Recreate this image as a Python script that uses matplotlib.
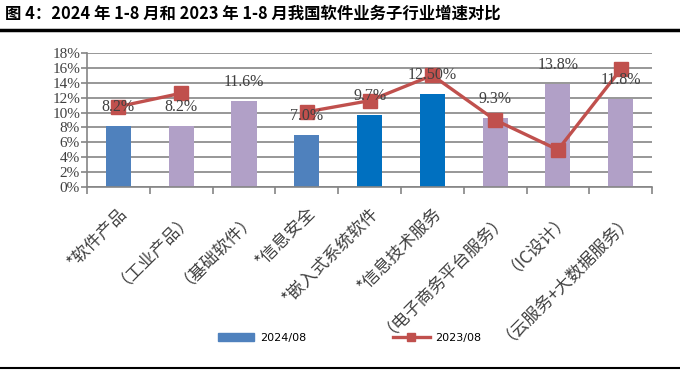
import numpy as np
import matplotlib
matplotlib.use("Agg")
import matplotlib.pyplot as plt
from matplotlib.lines import Line2D
from matplotlib.patches import Patch

plt.rcParams['font.family'] = ['Noto Sans CJK SC', 'DejaVu Sans']

categories = ["*软件产品", "（工业产品）", "（基础软件）", "*信息安全", "*嵌入式系统软件",
              "*信息技术服务", "（电子商务平台服务）", "（IC设计）", "（云服务+大数据服务）"]
values_2024 = [8.2, 8.2, 11.6, 7.0, 9.7, 12.5, 9.3, 13.8, 11.8]
labels_2024 = ["8.2%", "8.2%", "11.6%", "7.0%", "9.7%", "12.50%", "9.3%", "13.8%", "11.8%"]
values_2023 = [10.8, 12.6, np.nan, 10.1, 11.6, 15.0, 9.0, 5.0, 15.8]
bar_colors = ["#4F81BD", "#B1A0C7", "#B1A0C7", "#4F81BD", "#0070C0",
              "#0070C0", "#B1A0C7", "#B1A0C7", "#B1A0C7"]
yticks = [0, 2, 4, 6, 8, 10, 12, 14, 16, 18]

fig = plt.figure(figsize=(6.8, 3.71), dpi=100)
ax = fig.add_axes([0.128, 0.496, 0.831, 0.361])

x = np.arange(len(categories))
ax.bar(x, values_2024, width=0.4, color=bar_colors, zorder=2)
ax.plot(x, values_2023, color="#C0504D", lw=2.4, marker="s", markersize=10,
        markerfacecolor="#C0504D", markeredgecolor="#C0504D", zorder=3)

for xi, v, lab in zip(x, values_2024, labels_2024):
    ax.text(xi, v + 2.55, lab, ha="center", va="center", fontsize=11.5,
            family="Liberation Serif", color="#404040", zorder=5)

ax.set_xlim(-0.5, len(categories) - 0.5)
ax.set_ylim(0, 18)
ax.set_yticks(yticks)
ax.set_yticklabels([f"{t}%" for t in yticks], family="Liberation Serif", fontsize=11, color="#404040")
ax.yaxis.grid(True, color="#858585", lw=1.2, zorder=0)
ax.set_axisbelow(True)

ax.set_xticks(x)
ax.set_xticklabels(categories, rotation=45, ha="right", va="top", rotation_mode="anchor",
                   fontsize=12.3, color="#404040")
ax.tick_params(axis="x", length=0, pad=12)
ax.set_xticks(np.arange(-0.5, len(categories), 1.0), minor=True)
ax.tick_params(axis="x", which="minor", length=5, color="#858585", width=1.2, direction="out")
ax.tick_params(axis="y", length=4, color="#858585", width=1.2, pad=1)

for s in ["top", "right"]:
    ax.spines[s].set_visible(False)
for s in ["left", "bottom"]:
    ax.spines[s].set_color("#858585")
    ax.spines[s].set_linewidth(1.2)

handles = [Patch(color="#4F81BD"),
           Line2D([0], [0], color="#C0504D", lw=2.4, marker="s", markersize=6)]
fig.legend(handles, ["2024/08", "2023/08"], loc="center", bbox_to_anchor=(0.514, 0.089),
           ncol=2, frameon=False, handlelength=3.3, handletextpad=0.5, columnspacing=7.8,
           prop={"family": "DejaVu Sans", "size": 8})

fig.text(0.007, 0.962, "图 4：2024 年 1-8 月和 2023 年 1-8 月我国软件业务子行业增速对比",
         fontsize=11.8, fontweight="bold", ha="left", va="center", color="black")
fig.add_artist(Line2D([0, 1], [0.918, 0.918], color="black", lw=2.5, transform=fig.transFigure))
fig.add_artist(Line2D([0, 1], [0.008, 0.008], color="black", lw=1.5, transform=fig.transFigure))

fig.savefig("out.png", dpi=100)
